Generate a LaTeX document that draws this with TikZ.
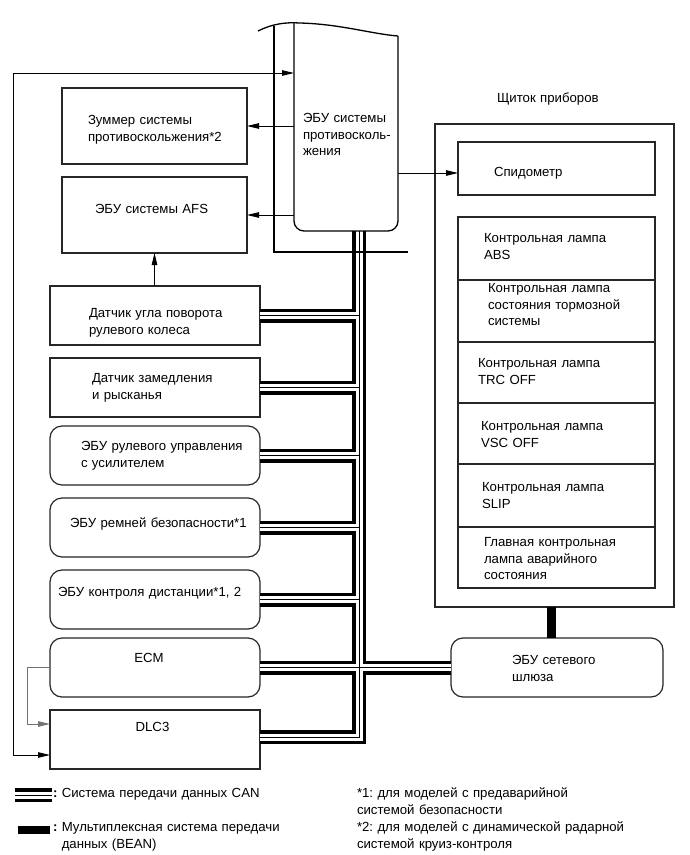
\documentclass[tikz,border=0pt]{standalone}
\usepackage{fontspec}
\setmainfont{Liberation Sans}
\usetikzlibrary{arrows.meta}
\newcommand{\mybox}[6]{\node[#1, minimum width={#4-#2}, minimum height={#5-#3}, anchor=north west] (#6) at (#2,#3) {};}
\begin{document}
\begin{tikzpicture}[x=1pt,y=-1pt,line join=miter,
  box/.style={draw=black!85, line width=1.2pt, fill=white, inner sep=0pt, outer sep=0pt},
  rbox/.style={box, rounded corners=12pt},
  eculine/.style={draw=black, line width=1.3pt},
  txt/.style={font=\fontsize{13.2}{16.5}\selectfont\frenchspacing, inner sep=0pt, outer sep=0pt, text width=330pt, align=left, anchor=base west},
  ctxt/.style={font=\fontsize{13.2}{16.5}\selectfont, inner sep=0pt, outer sep=0pt, anchor=base},
  arr/.style={line width=0.9pt, -{Triangle[length=12pt,width=5.5pt]}},
  arrb/.style={line width=0.9pt, {Triangle[length=12pt,width=5.5pt]}-{Triangle[length=12pt,width=5.5pt]}},
  arrg/.style={line width=0.9pt, draw=black!55, -{Triangle[length=12pt,width=5.5pt]}},
  busout/.style={draw=black, line width=14pt},
  busin/.style={draw=white, line width=7pt},
  buscore/.style={draw=black, line width=0.8pt},
  bean/.style={draw=black, line width=9pt}]
\useasboundingbox (0,0) rectangle (690,855);

% anti-collision ECU (invisible node for anchors)
\node[inner sep=0pt, outer sep=0pt, minimum width=104, minimum height=208, anchor=north west] (ecu) at (294,23) {};

% boxes
\mybox{box}{62}{88}{247}{164}{zum}
\mybox{box}{62}{177}{247}{253}{afs}
\mybox{box}{50}{286}{260}{345}{ugl}
\mybox{box}{50}{358}{260}{417}{zam}
\mybox{rbox}{50}{426}{260}{485}{rul}
\mybox{rbox}{50}{498}{260}{557}{rem}
\mybox{rbox}{50}{570}{260}{629}{dis}
\mybox{rbox}{50}{638}{260}{697}{ecm}
\mybox{box}{50}{710}{260}{769}{dlc}
\mybox{box}{435}{124}{674}{607}{clu}
\mybox{box}{458}{142}{655}{195}{spd}
\mybox{box}{458}{217}{655}{280}{la}
\mybox{box}{458}{280}{655}{342}{lb}
\mybox{box}{458}{342}{655}{403}{lc}
\mybox{box}{458}{403}{655}{464}{ld}
\mybox{box}{458}{464}{655}{527}{le}
\mybox{box}{458}{527}{655}{588}{lf}
\mybox{rbox}{451}{638}{663}{697}{gw}

% bus (CAN)
\coordinate (bt) at (359,231);
\coordinate (bb) at (359,737);
\foreach \st in {busout,busin,buscore}{
  \draw[\st] (bt) -- (bb) -- (bb -| dlc.east)
    (ugl.east) -- (ugl.east -| bt)
    (zam.east) -- (zam.east -| bt)
    (rul.east) -- (rul.east -| bt)
    (rem.east) -- (rem.east -| bt)
    (dis.east) -- (dis.east -| bt)
    (ecm.east) -- (gw.west);
}
% BEAN
\draw[bean] ([xshift=-3pt]clu.south) -- ([xshift=-3pt]clu.south |- gw.north);

% ECU outline
\draw[eculine] (258,31) .. controls (272,24) and (285,22) .. (300,23) .. controls (340,24) and (372,34) .. (398,36);
\draw[eculine, rounded corners=10pt] (ecu.north west) -- (ecu.south west) -- (ecu.south east) -- (398,36);
\draw[eculine] (274,25.5) -- (274,252) -- (408,252);

% arrows
\draw[arr] (ecu.west |- zum.east) -- (zum.east);
\draw[arr] (ecu.west |- afs.east) -- (afs.east);
\draw[arr] (ugl.north -| afs.south) -- (afs.south);
\coordinate (spdin) at ([yshift=-4.5pt]spd.west);
\draw[arr] (spdin -| ecu.east) -- (spdin);
\coordinate (lpt) at (13,73);
\coordinate (lpb) at (13,755);
\coordinate (lpin) at ([yshift=-15.5pt]dlc.west);
\draw[arrb] (lpt -| ecu.west) -- (lpt) -- (lpb) -- (lpin);
\coordinate (eg) at (27,0);
\coordinate (dgin) at ([yshift=15.5pt]dlc.west);
\draw[arrg] (ecm.west) -- (ecm.west -| eg) -- (dgin -| eg) -- (dgin);

% texts
\node[txt] (tecu) at (303,122.5) {ЭБУ системы\\противосколь-\\жения};
\node[txt] (tzum) at (88,124.5) {Зуммер системы\\противоскольжения*2};
\node[txt] (tafs) at (95,213.5) {ЭБУ системы AFS};
\node[txt] (tugl) at (89,317.5) {Датчик угла поворота\\рулевого колеса};
\node[txt] (tzam) at (92,382.5) {Датчик замедления\\и рысканья};
\node[txt] (trul) at (81,450.5) {ЭБУ рулевого управления\\с усилителем};
\node[txt] (trem) at (70,527.5) {ЭБУ ремней безопасности*1};
\node[txt] (tdis) at (58,596.5) {ЭБУ контроля дистанции*1, 2};
\node[ctxt] (tecm) at (149,662.5) {ECM};
\node[ctxt] (tdlc) at (152.5,731.5) {DLC3};
\node[txt] (tgw) at (512,664.5) {ЭБУ сетевого\\шлюза};
\node[txt] (tclu) at (497,102.5) {Щиток приборов};
\node[txt] (tspd) at (494,176.5) {Спидометр};
\node[txt] (tla) at (484,242.5) {Контрольная лампа\\ABS};
\node[txt] (tlb) at (488,292.5) {Контрольная лампа\\состояния тормозной\\системы};
\node[txt] (tlc) at (478,367.5) {Контрольная лампа\\TRC OFF};
\node[txt] (tld) at (481,430.5) {Контрольная лампа\\VSC OFF};
\node[txt] (tle) at (482,491.5) {Контрольная лампа\\SLIP};
\node[txt] (tlf) at (484,546.5) {Главная контрольная\\лампа аварийного\\состояния};

% legend
\coordinate (cl1) at (15,795);
\coordinate (cl2) at (52,795);
\foreach \st in {busout,busin,buscore}{\draw[\st] (cl1) -- (cl2);}
\node[fill=black, inner sep=0pt, outer sep=0pt, minimum width=32, minimum height=8, anchor=west] (bl) at (18,830) {};
\node[txt] (lg1) at (53,797.5) {\textbf{:} Система передачи данных CAN};
\node[txt] (lg2) at (53,831.5) {\textbf{:} Мультиплексная система передачи\\\hphantom{\textbf{:} }данных (BEAN)};
\node[txt] (nt1) at (357,797.5) {*1: для моделей с предаварийной\\системой безопасности};
\node[txt] (nt2) at (357,831.5) {*2: для моделей с динамической радарной\\системой круиз-контроля};
\end{tikzpicture}
\end{document}
